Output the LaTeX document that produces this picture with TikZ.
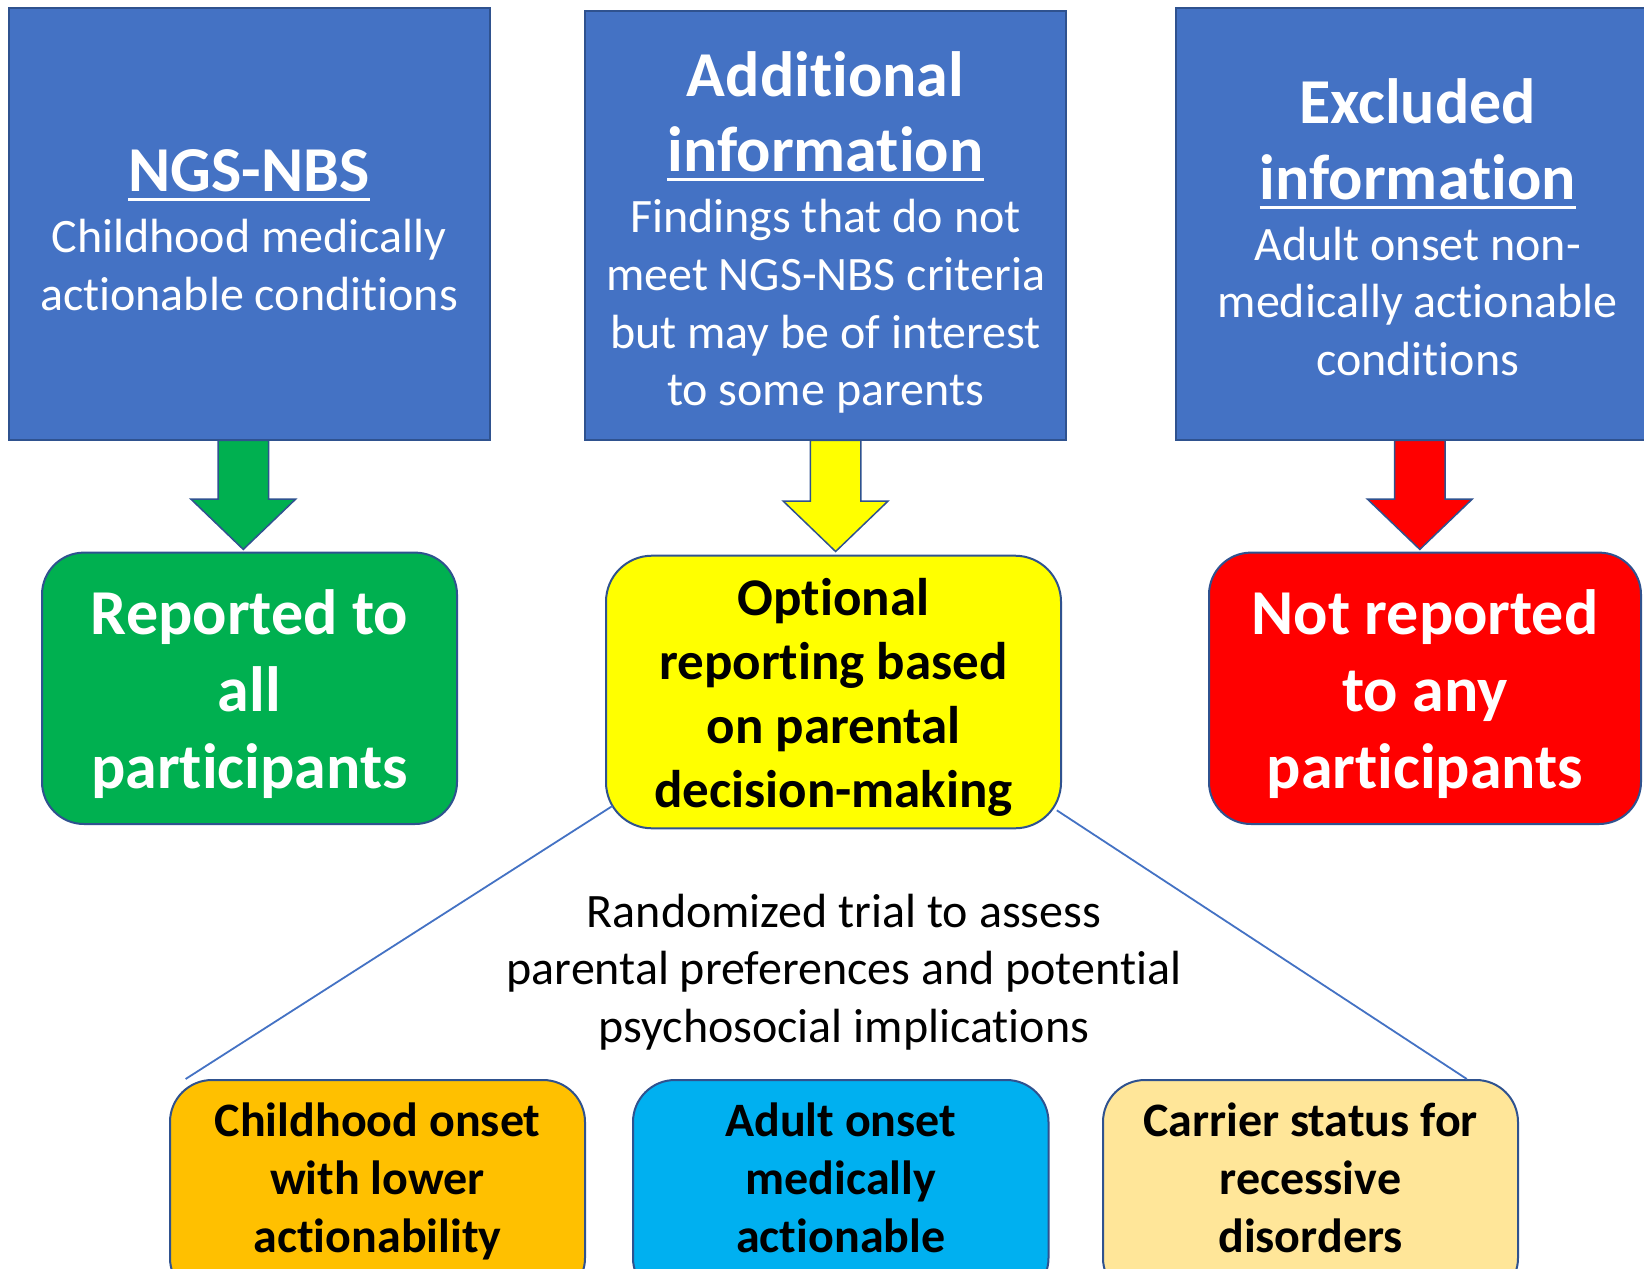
\documentclass[tikz,border=0pt]{standalone}
\usepackage{fontspec}
\setmainfont[Ligatures={NoCommon,NoContextual}]{Carlito}
\usetikzlibrary{calc}
\definecolor{boxblue}{HTML}{4472C4}
\definecolor{edgeblue}{HTML}{2F528F}
\definecolor{ggreen}{HTML}{00B050}
\definecolor{yyellow}{HTML}{FFFF00}
\definecolor{rred}{HTML}{FF0000}
\definecolor{oorange}{HTML}{FFC000}
\definecolor{ccyan}{HTML}{00B0F0}
\definecolor{lyellow}{HTML}{FFE699}
\newcommand\blockarrow[5]{%
  \filldraw[fill=#5,draw=edgeblue,line width=1.5pt,line join=miter]
    ({#1-25.2},#2) -- ({#1+25.2},#2) -- ({#1+25.2},#3) -- ({#1+52.5},#3)
    -- (#1,#4) -- ({#1-52.5},#3) -- ({#1-25.2},#3) -- cycle;}
\begin{document}
\begin{tikzpicture}[x=1pt,y=-1pt,
  topbox/.style={draw=edgeblue,fill=boxblue,line width=2pt,inner sep=0pt,minimum width=481pt,minimum height=432pt},
  rbox/.style={draw=edgeblue,line width=2pt,inner sep=0pt,rounded corners=42pt},
  ttl/.style={anchor=base,inner sep=0pt,text=white,font=\fontsize{64}{77}\selectfont\bfseries},
  bod/.style={anchor=base,inner sep=0pt,text=white,font=\fontsize{48}{58}\selectfont},
  big/.style={anchor=base,inner sep=0pt,text=white,font=\fontsize{64}{77}\selectfont\bfseries},
  opt/.style={anchor=base,inner sep=0pt,text=black,font=\fontsize{53}{64}\selectfont\bfseries},
  mid/.style={anchor=base,inner sep=0pt,text=black,font=\fontsize{48}{58}\selectfont},
  sml/.style={anchor=base,inner sep=0pt,text=black,font=\fontsize{48}{58}\selectfont\bfseries},
  uline/.style={draw=white,line width=3pt},
  link/.style={draw=boxblue,line width=1.8pt}]
\clip (0,0) rectangle (1644,1269);
\fill[white] (0,0) rectangle (1644,1269);

% top boxes
\node[topbox] (b1) at (249,224.4) {};
\node[topbox,minimum height=429.5pt] (b2) at (825.5,225.25) {};
\node[topbox,minimum width=483pt] (b3) at (1417.7,224.4) {};

% block arrows
\blockarrow{243.3}{440.4}{499}{549.4}{ggreen}
\blockarrow{835.6}{440.4}{501}{551.5}{yyellow}
\blockarrow{1419.8}{440.4}{499}{549.4}{rred}

% middle rounded boxes
\node[rbox,fill=ggreen,minimum width=415pt,minimum height=271.4pt] (g) at (249.5,688.3) {};
\node[rbox,fill=yyellow,rounded corners=46pt,minimum width=455pt,minimum height=272.6pt] (o) at (833.5,692) {};
\node[rbox,fill=rred,minimum width=432pt,minimum height=271.4pt] (r) at (1425,688.3) {};

% bottom rounded boxes
\node[rbox,fill=oorange,minimum width=415pt,minimum height=220pt] (c1) at (377.5,1190) {};
\node[rbox,fill=ccyan,minimum width=415.5pt,minimum height=220pt] (c2) at (840.75,1190) {};
\node[rbox,fill=lyellow,minimum width=415pt,minimum height=220pt] (c3) at (1310.5,1190) {};

% connectors
\draw[link] ($(o.south west)+(7.4,-23.3)$) -- ($(c1.north west)+(16.6,0)$);
\draw[link] ($(o.south east)+(-5.2,-19)$) -- ($(c3.north east)+(-52.2,0)$);

% texts box 1
\node[ttl] (t1a) at (249,191) {NGS-NBS};
\draw[uline] ($(t1a.base west)+(0,8.5)$) -- ($(t1a.base east)+(0,8.5)$);
\node[bod] (t1b) at (249,252.7) {Childhood medically};
\node[bod] (t1c) at (249,310.4) {actionable conditions};
% texts box 2
\node[ttl] (t2a) at (825.5,96.5) {Additional};
\node[ttl] (t2b) at (825.5,171) {information};
\draw[uline] ($(t2b.base west)+(0,8.5)$) -- ($(t2b.base east)+(0,8.5)$);
\node[bod] (t2c) at (825.5,232.8) {Findings that do not};
\node[bod] (t2d) at (825.5,290.5) {meet NGS-NBS criteria};
\node[bod] (t2e) at (825.5,348.2) {but may be of interest};
\node[bod] (t2f) at (825.5,405.9) {to some parents};
% texts box 3
\node[ttl] (t3a) at (1417.7,123.7) {Excluded};
\node[ttl] (t3b) at (1417.7,199) {information};
\draw[uline] ($(t3b.base west)+(0,8.5)$) -- ($(t3b.base east)+(0,8.5)$);
\node[bod] (t3c) at (1417.7,260) {Adult onset non-};
\node[bod] (t3d) at (1417.7,317.7) {medically actionable};
\node[bod] (t3e) at (1417.7,375.4) {conditions};
% green
\node[big] (tga) at (249.5,634) {Reported to};
\node[big] (tgb) at (249.5,711) {all};
\node[big] (tgc) at (249.5,788) {participants};
% yellow
\node[opt] (toa) at (833.5,615.5) {Optional};
\node[opt] (tob) at (833.5,679.5) {reporting based};
\node[opt] (toc) at (833.5,743.5) {on parental};
\node[opt] (tod) at (833.5,807.5) {decision-making};
% red
\node[big] (tra) at (1425,634) {Not reported};
\node[big] (trb) at (1425,711) {to any};
\node[big] (trc) at (1425,788) {participants};
% randomized
\node[mid] (tma) at (844,927) {Randomized trial to assess};
\node[mid] (tmb) at (844,984.5) {parental preferences and potential};
\node[mid] (tmc) at (844,1042) {psychosocial implications};
% bottom
\node[sml] (c1a) at (377.5,1136.6) {Childhood onset};
\node[sml] (c1b) at (377.5,1194.3) {with lower};
\node[sml] (c1c) at (377.5,1252) {actionability};
\node[sml] (c2a) at (840.75,1136.6) {Adult onset};
\node[sml] (c2b) at (840.75,1194.3) {medically};
\node[sml] (c2c) at (840.75,1252) {actionable};
\node[sml] (c3a) at (1310.5,1136.6) {Carrier status for};
\node[sml] (c3b) at (1310.5,1194.3) {recessive};
\node[sml] (c3c) at (1310.5,1252) {disorders};
\end{tikzpicture}
\end{document}
